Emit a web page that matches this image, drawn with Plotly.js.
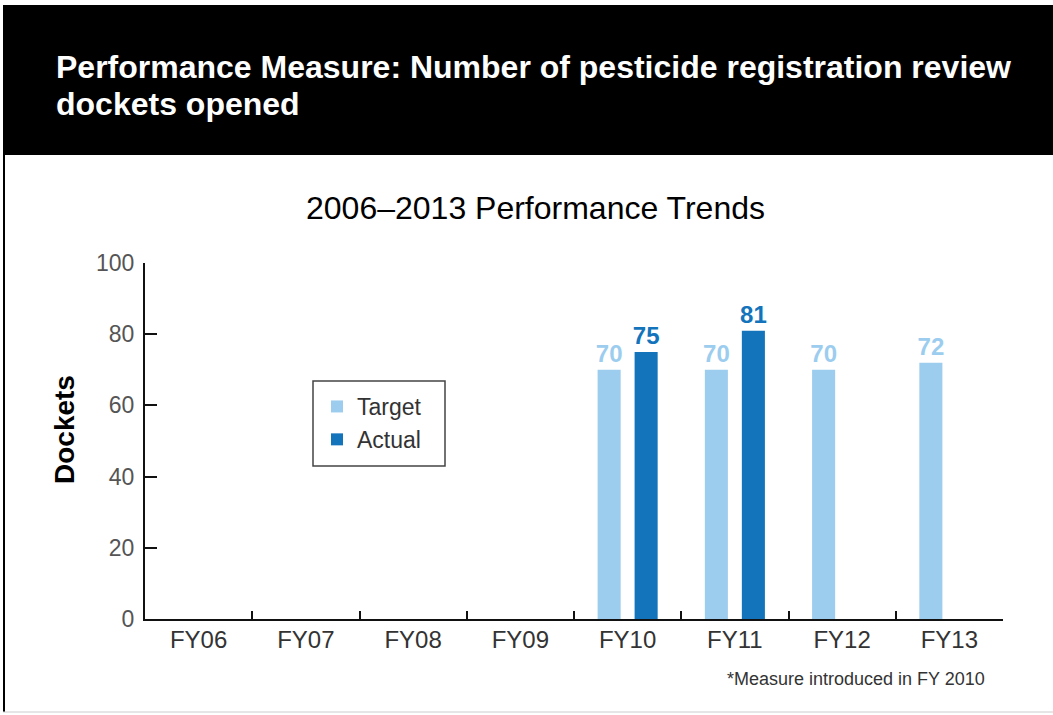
<!DOCTYPE html>
<html>
<head>
<meta charset="utf-8">
<script src="https://cdn.plot.ly/plotly-3.0.1.min.js"></script>
<style>
html,body{margin:0;padding:0;background:#fff;}
#chart{width:1053px;height:715px;}
</style>
</head>
<body>
<div id="chart"></div>
<script>
const categories = ["FY06","FY07","FY08","FY09","FY10","FY11","FY12","FY13"];
const targetValues = [null,null,null,null,70,70,70,72];
const actualValues = [null,null,null,null,75,81,null,null];
const headerLines = ["Performance Measure: Number of pesticide registration review", "dockets opened"];
const subtitleText = "2006\u20132013 Performance Trends";
const yTitle = "Dockets";
const footnote = "*Measure introduced in FY 2010";
const yTicks = [0,20,40,60,80,100];

const W = 1053, H = 715;
const L = 145, R = 1003, T = 263, B = 619;
const px = x => (x - L) / (R - L);
const py = y => (B - y) / (B - T);

const FONT = "Liberation Sans, Arial, Helvetica, sans-serif";
const targetColor = "#9ccdef";
const actualColor = "#1374bc";

const lab = arr => arr.map(v => v == null ? "" : "<b>" + v + "</b>");

const traces = [
  {
    type: "bar", name: "Target", x: categories, y: targetValues,
    marker: {color: targetColor},
    width: 0.215, offset: -0.28,
    text: lab(targetValues), textposition: "outside", constraintext: "none",
    textfont: {family: FONT, size: 24, color: targetColor},
    cliponaxis: false, hoverinfo: "x+y"
  },
  {
    type: "bar", name: "Actual", x: categories, y: actualValues,
    marker: {color: actualColor},
    width: 0.215, offset: 0.065,
    text: lab(actualValues), textposition: "outside", constraintext: "none",
    textfont: {family: FONT, size: 24, color: actualColor},
    cliponaxis: false, hoverinfo: "x+y"
  }
];

const layout = {
  width: W, height: H,
  margin: {l: L, r: W - R, t: T, b: H - B, pad: 0},
  paper_bgcolor: "#ffffff", plot_bgcolor: "#ffffff",
  font: {family: FONT, color: "#444"},
  barmode: "overlay",
  showlegend: true,
  legend: {
    x: px(317), y: py(385), xanchor: "left", yanchor: "top",
    bgcolor: "rgba(0,0,0,0)", borderwidth: 0,
    font: {family: FONT, size: 23, color: "#333"},
    itemwidth: 30, tracegroupgap: 0
  },
  xaxis: {
    type: "category", range: [-0.5, 7.5],
    showline: true, linecolor: "#111", linewidth: 2,
    ticks: "inside", tickson: "boundaries", ticklen: 8, tickcolor: "#111", tickwidth: 2,
    tickfont: {family: FONT, size: 24, color: "#333"},
    ticklabelstandoff: -2,
    showgrid: false, zeroline: false, fixedrange: true
  },
  yaxis: {
    range: [0, 100], tickvals: yTicks,
    showline: true, linecolor: "#111", linewidth: 2,
    ticks: "inside", ticklen: 12, tickcolor: "#111", tickwidth: 2,
    tickfont: {family: FONT, size: 23, color: "#555"},
    ticklabelstandoff: 4,
    showgrid: false, zeroline: false, fixedrange: true
  },
  shapes: [
    {type: "rect", xref: "paper", yref: "paper", x0: px(3), x1: px(1060), y0: py(155), y1: py(5),
     fillcolor: "#000", line: {width: 0}, layer: "below"},
    {type: "line", xref: "paper", yref: "paper", x0: px(4), x1: px(4), y0: py(155), y1: py(712),
     line: {color: "#000", width: 2}},
    {type: "line", xref: "paper", yref: "paper", x0: px(3), x1: px(1060), y0: py(712), y1: py(712),
     line: {color: "#ccc", width: 1}},
    {type: "rect", xref: "paper", yref: "paper", x0: px(313), x1: px(445), y0: py(466), y1: py(381),
     fillcolor: "#fff", line: {color: "#444", width: 1.5}, layer: "above"}
  ],
  annotations: [
    {xref: "paper", yref: "paper", x: px(54), y: py(67), xanchor: "left", yanchor: "middle",
     text: "<b>" + headerLines[0] + "</b>", align: "left", showarrow: false,
     font: {family: FONT, size: 32, color: "#fff"}},
    {xref: "paper", yref: "paper", x: px(54), y: py(104), xanchor: "left", yanchor: "middle",
     text: "<b>" + headerLines[1] + "</b>", align: "left", showarrow: false,
     font: {family: FONT, size: 32, color: "#fff"}},
    {xref: "paper", yref: "paper", x: px(535), y: py(208), xanchor: "center", yanchor: "middle",
     text: subtitleText, showarrow: false,
     font: {family: FONT, size: 32, color: "#000"}},
    {xref: "paper", yref: "paper", x: px(64), y: py(430), xanchor: "center", yanchor: "middle",
     text: "<b>" + yTitle + "</b>", textangle: -90, showarrow: false,
     font: {family: FONT, size: 28, color: "#000"}},
    {xref: "paper", yref: "paper", x: px(987), y: py(679), xanchor: "right", yanchor: "middle",
     text: footnote, showarrow: false,
     font: {family: FONT, size: 18, color: "#333"}}
  ]
};

Plotly.newPlot("chart", traces, layout, {displayModeBar: false, staticPlot: true});
</script>
</body>
</html>
